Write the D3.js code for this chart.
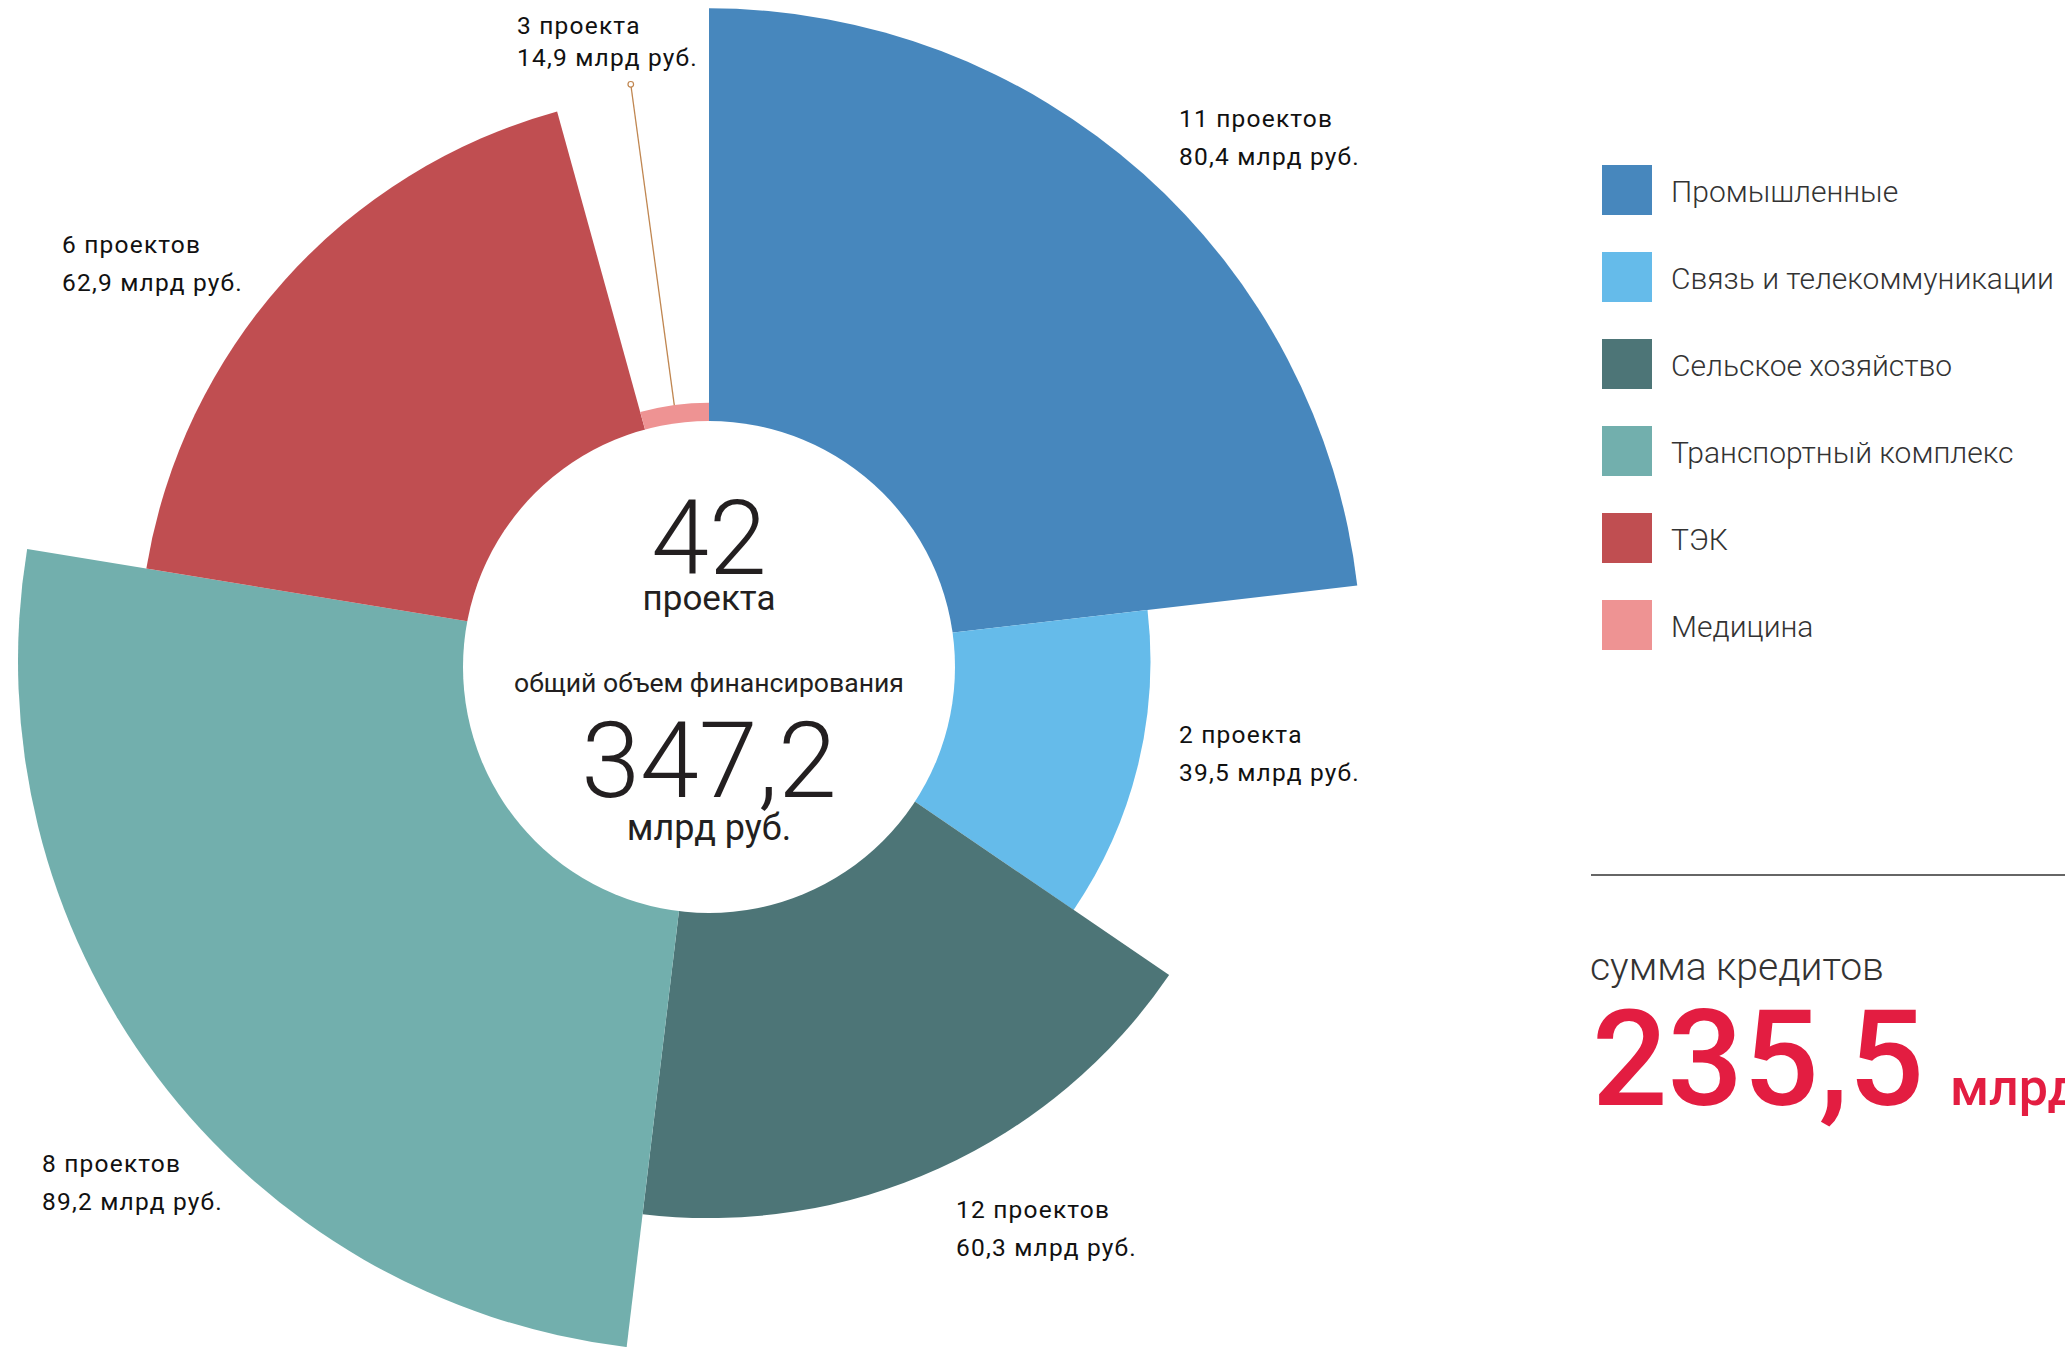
<!DOCTYPE html>
<html lang="ru">
<head>
<meta charset="utf-8">
<script src="https://cdn.jsdelivr.net/npm/d3@7"></script>
<style>
  html, body { margin: 0; padding: 0; background: #fff; }
  svg { display: block; }
  text { font-family: Roboto, "Noto Sans", sans-serif; }
</style>
</head>
<body>
<div id="chart"></div>
<script>
// ---------------- DATA ----------------
const sectors  = ["Промышленные", "Связь и телекоммуникации", "Сельское хозяйство",
                  "Транспортный комплекс", "ТЭК", "Медицина"];
const amounts  = [80.4, 39.5, 60.3, 89.2, 62.9, 14.9];   // млрд руб.
const projects = [11, 2, 12, 8, 6, 3];
const creditSum = 235.5;

// ---------------- STYLE / LAYOUT ----------------
const colors = ["#4787bd", "#65bbea", "#4d7577", "#72afad", "#c04e51", "#ee9393"];

const width = 2065, height = 1347;
const cx = 709, cy = 661;            // pie centre
const hole = { cx: 709, cy: 667, r: 246 };

// label anchors (first line baseline) + line height
const labelLayout = [
  { x: 1179, y: 127, lh: 38 },
  { x: 1179, y: 743, lh: 38 },
  { x: 956,  y: 1218, lh: 38 },
  { x: 42,   y: 1172, lh: 38 },
  { x: 62,   y: 253, lh: 38 },
  { x: 517,  y: 34,  lh: 32 }
];

const data = sectors.map((s, i) => ({
  sector: s, amount: amounts[i], projects: projects[i], color: colors[i]
}));

const fmt = v => d3.format(".1f")(v).replace(".", ",");
const projWord = n => {
  const m10 = n % 10, m100 = n % 100;
  if (m10 === 1 && m100 !== 11) return "проект";
  if (m10 >= 2 && m10 <= 4 && (m100 < 12 || m100 > 14)) return "проекта";
  return "проектов";
};

const svg = d3.select("#chart").append("svg")
  .attr("width", width)
  .attr("height", height)
  .attr("viewBox", `0 0 ${width} ${height}`);

// ---------------- PIE ----------------
// angle ~ amount, radius grows with amount (power scale)
const rScale = d3.scalePow()
  .exponent(0.55)
  .domain([0, d3.max(amounts)])
  .range([0, 691]);

const pie = d3.pie().sort(null).value(d => d.amount);
const arcs = pie(data);

const arc = d3.arc()
  .innerRadius(0)
  .outerRadius(d => rScale(d.data.amount));

const g = svg.append("g").attr("transform", `translate(${cx},${cy})`);

g.selectAll("path.slice")
  .data(arcs)
  .join("path")
  .attr("class", "slice")
  .attr("d", arc)
  .attr("fill", d => d.data.color);

// leader line for the thin "Медицина" slice
const small = arcs[arcs.length - 1];
const midA = (small.startAngle + small.endAngle) / 2;
const r0 = rScale(small.data.amount), r1 = 582;
const px = (r, a) => r * Math.sin(a), py = (r, a) => -r * Math.cos(a);
g.append("line")
  .attr("x1", px(r0, midA)).attr("y1", py(r0, midA))
  .attr("x2", px(r1, midA)).attr("y2", py(r1, midA))
  .attr("stroke", "#c08650")
  .attr("stroke-width", 1.3);
g.append("circle")
  .attr("cx", px(r1, midA)).attr("cy", py(r1, midA))
  .attr("r", 2.8)
  .attr("fill", "#fff")
  .attr("stroke", "#c08650")
  .attr("stroke-width", 1.2);

// white centre
svg.append("circle")
  .attr("cx", hole.cx).attr("cy", hole.cy).attr("r", hole.r)
  .attr("fill", "#fff");

// ---------------- CENTRE TEXT ----------------
const totalProjects = d3.sum(projects);
const totalAmount = d3.sum(amounts);
const center = svg.append("g").attr("text-anchor", "middle").attr("fill", "#231f20");

center.append("text").attr("x", hole.cx).attr("y", 574)
  .style("font-size", "104px").style("font-weight", 300)
  .text(totalProjects);
center.append("text").attr("x", hole.cx).attr("y", 610)
  .style("font-size", "35px").style("font-weight", 400)
  .text(projWord(totalProjects));
center.append("text").attr("x", hole.cx).attr("y", 692)
  .style("font-size", "26.6px").style("font-weight", 400)
  .text("общий объем финансирования");
center.append("text").attr("x", hole.cx).attr("y", 797)
  .style("font-size", "106px").style("font-weight", 300)
  .text(fmt(totalAmount));
center.append("text").attr("x", hole.cx).attr("y", 840)
  .style("font-size", "36px").style("font-weight", 400)
  .text("млрд руб.");

// ---------------- SLICE LABELS ----------------
const labels = svg.append("g").attr("fill", "#111");
data.forEach((d, i) => {
  const L = labelLayout[i];
  const t = labels.append("text")
    .attr("x", L.x).attr("y", L.y)
    .style("font-size", "24.5px")
    .style("letter-spacing", "1.2px");
  t.append("tspan").attr("x", L.x).text(`${d.projects} ${projWord(d.projects)}`);
  t.append("tspan").attr("x", L.x).attr("dy", L.lh).text(`${fmt(d.amount)} млрд руб.`);
});

// ---------------- LEGEND ----------------
const legend = svg.append("g").attr("transform", "translate(1602,165)");
const items = legend.selectAll("g.item")
  .data(data)
  .join("g")
  .attr("class", "item")
  .attr("transform", (d, i) => `translate(0,${i * 87})`);
items.append("rect")
  .attr("width", 50).attr("height", 50)
  .attr("fill", d => d.color);
items.append("text")
  .attr("x", 69).attr("y", 37)
  .attr("fill", "#333")
  .style("font-size", "30px").style("font-weight", 300)
  .text(d => d.sector);

// ---------------- CREDIT SUM ----------------
svg.append("line")
  .attr("x1", 1591).attr("x2", width)
  .attr("y1", 875).attr("y2", 875)
  .attr("stroke", "#666").attr("stroke-width", 2);

svg.append("text")
  .attr("x", 1590).attr("y", 980)
  .attr("fill", "#333")
  .style("font-size", "39px").style("font-weight", 300)
  .text("сумма кредитов");

svg.append("text")
  .attr("x", 1592).attr("y", 1105)
  .attr("fill", "#e31d41")
  .style("font-size", "133px").style("font-weight", 500)
  .text(fmt(creditSum));

svg.append("text")
  .attr("x", 1950).attr("y", 1105)
  .attr("fill", "#e31d41")
  .style("font-size", "52px").style("font-weight", 500)
  .text("млрд руб.");
</script>
</body>
</html>
